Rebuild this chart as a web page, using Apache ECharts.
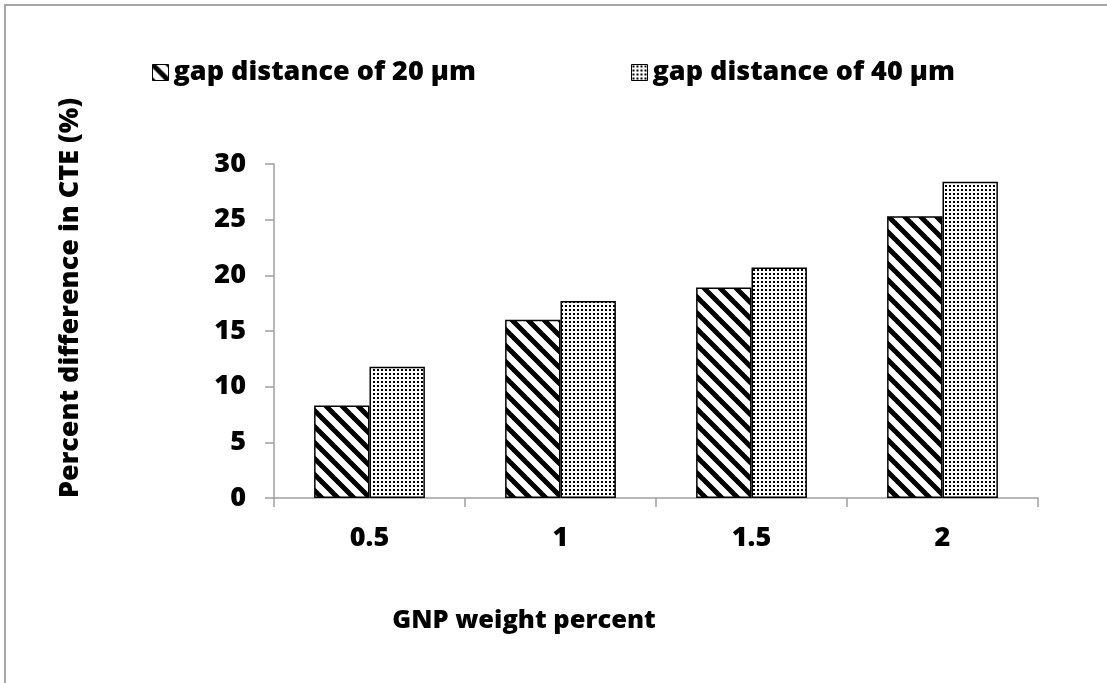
<!DOCTYPE html>
<html>
<head>
<meta charset="utf-8">
<script src="https://cdn.jsdelivr.net/npm/echarts@6/dist/echarts.min.js"></script>
<style>
  html, body { margin: 0; padding: 0; background: #fff; }
  #chart { width: 1107px; height: 683px; }
</style>
</head>
<body>
<div id="chart"></div>
<script>
// GNP loading levels (wt%)
const categories = ['0.5', '1', '1.5', '2'];
// Percent difference in CTE for each gap distance
const gap20 = [8.3, 16.0, 18.9, 25.3];
const gap40 = [11.8, 17.7, 20.7, 28.4];
const seriesNames = ['gap distance of 20 µm', 'gap distance of 40 µm'];
const yTicks = { min: 0, max: 30, interval: 5 };

const FONT = '"Open Sans"';
const WEIGHT = 800;

// Diagonal hatch fill: thick black stripes running top-left to bottom-right
function hatchPattern() {
  const s = 16;
  const c = document.createElement('canvas');
  c.width = s; c.height = s;
  const g = c.getContext('2d');
  g.fillStyle = '#fff';
  g.fillRect(0, 0, s, s);
  g.strokeStyle = '#000';
  g.lineWidth = 5;
  for (const o of [-s, 0, s]) {
    g.beginPath();
    g.moveTo(o - 2, -2);
    g.lineTo(o + s + 2, s + 2);
    g.stroke();
  }
  return { image: c, repeat: 'repeat' };
}

// Fine dot fill
function dotPattern() {
  const s = 4;
  const c = document.createElement('canvas');
  c.width = s; c.height = s;
  const g = c.getContext('2d');
  g.fillStyle = '#fff';
  g.fillRect(0, 0, s, s);
  g.fillStyle = '#000';
  g.fillRect(1, 1, 2, 2);
  return { image: c, repeat: 'repeat' };
}

const hatch = hatchPattern();
const dots = dotPattern();

const chart = echarts.init(document.getElementById('chart'), null, { renderer: 'canvas' });

const boldText = { fontFamily: FONT, fontWeight: WEIGHT, fontSize: 27, color: '#000' };

chart.setOption({
  backgroundColor: '#fff',
  animation: false,
  grid: { left: 274, right: 69, top: 164, bottom: 185, containLabel: false },
  legend: [
    {
      data: [seriesNames[0]], left: 147, top: 54, icon: 'rect',
      itemWidth: 16, itemHeight: 16, itemGap: 0, textStyle: boldText,
      itemStyle: { borderColor: '#000', borderWidth: 1 }
    },
    {
      data: [seriesNames[1]], left: 626, top: 54, icon: 'rect',
      itemWidth: 16, itemHeight: 16, itemGap: 0, textStyle: boldText,
      itemStyle: { borderColor: '#000', borderWidth: 1 }
    }
  ],
  xAxis: {
    type: 'category',
    data: categories,
    axisLine: { lineStyle: { color: '#a0a0a0', width: 1.5 } },
    axisTick: { show: true, length: 9, lineStyle: { color: '#a0a0a0', width: 1.5 } },
    axisLabel: Object.assign({ margin: 27 }, boldText)
  },
  yAxis: {
    type: 'value',
    min: yTicks.min, max: yTicks.max, interval: yTicks.interval,
    axisLine: { show: true, lineStyle: { color: '#a0a0a0', width: 1.5 } },
    axisTick: { show: true, length: 9, lineStyle: { color: '#a0a0a0', width: 1.5 } },
    splitLine: { show: false },
    axisLabel: Object.assign({ margin: 28 }, boldText)
  },
  series: [
    {
      name: seriesNames[0], type: 'bar', data: gap20,
      barGap: '0%', barCategoryGap: '42%',
      itemStyle: { color: hatch, borderColor: '#000', borderWidth: 1.5 }
    },
    {
      name: seriesNames[1], type: 'bar', data: gap40,
      barGap: '0%', barCategoryGap: '42%',
      itemStyle: { color: dots, borderColor: '#000', borderWidth: 1.5 }
    }
  ],
  graphic: [
    {
      type: 'rect', silent: true, z: -1,
      shape: { x: 5, y: 5, width: 1130, height: 720 },
      style: { fill: 'none', stroke: '#a6a6a6', lineWidth: 2 }
    },
    {
      type: 'text', x: 524, y: 621,
      style: {
        text: 'GNP weight percent', fontFamily: FONT, fontWeight: WEIGHT, fontSize: 25.5,
        fill: '#000', align: 'center', verticalAlign: 'middle'
      }
    },
    {
      type: 'text', x: 70, y: 298, rotation: Math.PI / 2,
      style: {
        text: 'Percent difference in CTE (%)', fontFamily: FONT, fontWeight: WEIGHT, fontSize: 27,
        fill: '#000', align: 'center', verticalAlign: 'middle'
      }
    }
  ]
});
</script>
</body>
</html>
